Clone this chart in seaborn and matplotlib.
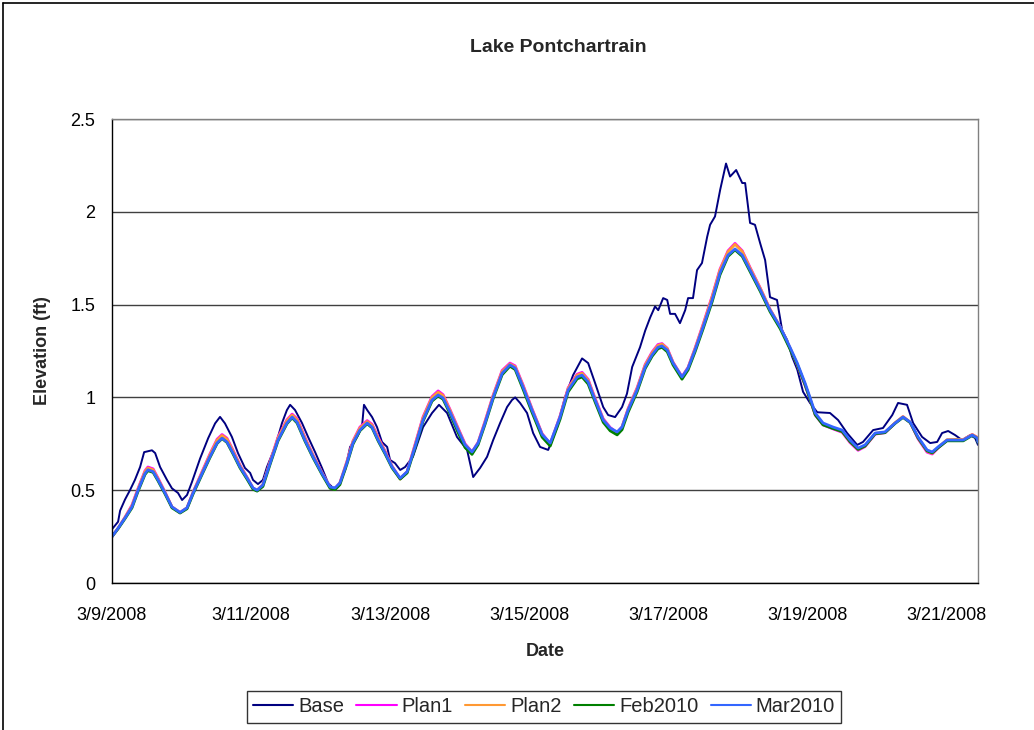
import matplotlib
matplotlib.use("Agg")
import matplotlib.pyplot as plt
import matplotlib.dates as mdates
from matplotlib.ticker import FuncFormatter, MultipleLocator
import seaborn as sns
import pandas as pd
import numpy as np

# Hours elapsed since 3/9/2008 00:00
base_hours = [0, 2.1, 2.8, 4.5, 6.2, 7.9, 9.7, 11.1, 13.8, 14.9, 16.6, 19.0, 20.7, 22.8,
              24.2, 25.9, 27.6, 30.4, 33.2, 35.6, 37.3, 39.0, 41.4, 43.5, 45.9, 47.7,
              48.7, 50.4, 52.1, 53.5, 56.3, 58.7, 60.4, 61.5, 63.2, 65.6, 67.7, 70.1,
              72.5, 74.6, 76.3, 78.0, 80.5, 82.2, 84.6, 86.3, 87.0, 88.1, 89.8, 91.5,
              93.2, 95.0, 96.0, 97.7, 99.5, 101.2, 103.9, 107.4, 110.5, 112.9, 115.7,
              119.1, 122.6, 124.7, 127.1, 129.5, 131.6, 134.0, 136.4, 138.1, 139.2,
              140.9, 143.3, 145.4, 147.8, 150.6, 153.7, 156.4, 159.2, 162.3, 164.4,
              166.8, 169.6, 171.3, 173.7, 176.1, 177.8, 179.6, 182.3, 184.1, 185.8,
              187.5, 188.6, 190.3, 191.7, 192.7, 194.4, 196.1, 197.9, 198.9, 200.6,
              202.0, 203.7, 205.5, 206.5, 208.2, 210.0, 212.0, 213.4, 215.5, 217.6,
              218.6, 220.3, 222.0, 223.8, 225.5, 227.2, 229.6, 231.4, 233.1, 234.8,
              236.6, 238.6, 241.0, 243.5, 247.9, 250.7, 253.8, 257.3, 259.3, 262.8,
              266.2, 269.4, 271.4, 274.5, 276.6, 279.7, 282.5, 284.9, 286.6, 288.7,
              291.1, 293.5, 296.3, 298.0, 299.0]
base = [0.29, 0.33, 0.39, 0.45, 0.50, 0.555, 0.625, 0.705, 0.715, 0.70, 0.625, 0.555,
        0.51, 0.485, 0.447, 0.474, 0.544, 0.67, 0.78, 0.86, 0.895, 0.86, 0.787, 0.70,
        0.62, 0.593, 0.555, 0.533, 0.555, 0.625, 0.733, 0.862, 0.932, 0.96, 0.932,
        0.862, 0.787, 0.706, 0.62, 0.539, 0.512, 0.517, 0.609, 0.733, 0.787, 0.84,
        0.96, 0.932, 0.894, 0.84, 0.76, 0.733, 0.663, 0.646, 0.609, 0.625, 0.68, 0.84,
        0.916, 0.96, 0.916, 0.787, 0.717, 0.571, 0.62, 0.68, 0.77, 0.862, 0.948, 0.986,
        1.0, 0.97, 0.916, 0.808, 0.733, 0.717, 0.84, 1.0, 1.12, 1.21, 1.185, 1.077,
        0.948, 0.905, 0.894, 0.948, 1.02, 1.164, 1.27, 1.36, 1.43, 1.49, 1.47, 1.535,
        1.525, 1.45, 1.45, 1.40, 1.47, 1.535, 1.535, 1.686, 1.724, 1.866, 1.93, 1.975,
        2.12, 2.26, 2.19, 2.225, 2.155, 2.155, 1.94, 1.93, 1.83, 1.74, 1.54, 1.525,
        1.36, 1.31, 1.22, 1.15, 1.03, 0.97, 0.92, 0.916, 0.878, 0.808, 0.744, 0.76,
        0.824, 0.835, 0.905, 0.97, 0.96, 0.862, 0.787, 0.754, 0.76, 0.808, 0.819,
        0.797, 0.77, 0.797, 0.781, 0.744]

plan_hours = [0, 2.1, 4.5, 6.9, 9.0, 11.4, 12.4, 14.2, 15.9, 18.3, 20.7, 23.5, 25.9,
              28.0, 31.1, 33.8, 36.3, 38.0, 39.7, 41.8, 44.2, 46.6, 48.7, 50.1, 52.1,
              54.6, 57.3, 60.4, 62.2, 63.9, 66.6, 69.4, 72.5, 75.3, 77.0, 78.7, 81.1,
              83.2, 85.6, 88.1, 89.8, 91.9, 94.3, 96.7, 99.5, 101.9, 104.6, 107.4,
              110.5, 112.6, 114.3, 116.7, 119.5, 121.9, 124.3, 126.4, 128.8, 131.6,
              134.7, 137.4, 139.2, 141.9, 145.0, 148.5, 151.3, 154.7, 157.5, 160.6,
              162.3, 164.4, 166.8, 169.6, 172.0, 174.4, 176.1, 178.2, 181.3, 184.1,
              186.5, 188.5, 189.9, 191.7, 193.7, 196.8, 198.9, 201.3, 204.1, 207.2,
              209.9, 212.7, 215.1, 217.6, 220.3, 223.8, 227.2, 230.7, 234.1, 236.6,
              239.3, 241.0, 242.8, 245.5, 249.0, 252.1, 254.8, 257.6, 260.0, 263.5,
              266.9, 270.4, 273.1, 275.6, 278.3, 281.4, 283.2, 285.2, 288.3, 291.8,
              293.9, 297.0, 298.7, 299.0]

mar2010 = [0.25, 0.295, 0.35, 0.41, 0.50, 0.59, 0.61, 0.60, 0.555, 0.485, 0.41, 0.38,
           0.405, 0.485, 0.59, 0.68, 0.755, 0.78, 0.76, 0.70, 0.625, 0.566, 0.512, 0.50,
           0.528, 0.646, 0.77, 0.862, 0.894, 0.867, 0.77, 0.68, 0.59, 0.517, 0.512,
           0.539, 0.646, 0.754, 0.824, 0.862, 0.84, 0.77, 0.70, 0.625, 0.565, 0.60,
           0.733, 0.878, 0.986, 1.013, 0.997, 0.921, 0.824, 0.744, 0.706, 0.754, 0.862,
           1.0, 1.13, 1.175, 1.158, 1.056, 0.932, 0.80, 0.754, 0.894, 1.04, 1.11, 1.12,
           1.083, 0.986, 0.878, 0.835, 0.814, 0.84, 0.932, 1.04, 1.164, 1.23, 1.27,
           1.277, 1.255, 1.185, 1.11, 1.158, 1.255, 1.38, 1.525, 1.67, 1.767, 1.80,
           1.767, 1.686, 1.58, 1.47, 1.38, 1.27, 1.185, 1.077, 1.0, 0.916, 0.862, 0.84,
           0.824, 0.77, 0.727, 0.744, 0.808, 0.814, 0.862, 0.894, 0.867, 0.787, 0.717,
           0.706, 0.733, 0.77, 0.77, 0.77, 0.797, 0.781, 0.76]

plan1 = [0.25, 0.295, 0.355, 0.42, 0.51, 0.605, 0.625, 0.615, 0.565, 0.49, 0.41, 0.38,
         0.405, 0.49, 0.60, 0.695, 0.775, 0.80, 0.78, 0.715, 0.635, 0.57, 0.512, 0.50,
         0.53, 0.655, 0.785, 0.88, 0.91, 0.885, 0.785, 0.69, 0.595, 0.517, 0.508,
         0.54, 0.655, 0.765, 0.84, 0.875, 0.855, 0.785, 0.71, 0.63, 0.562, 0.60,
         0.745, 0.895, 1.005, 1.035, 1.015, 0.935, 0.835, 0.75, 0.706, 0.758, 0.872,
         1.012, 1.145, 1.185, 1.17, 1.068, 0.94, 0.805, 0.75, 0.9, 1.052, 1.125, 1.135,
         1.097, 0.995, 0.885, 0.838, 0.81, 0.842, 0.94, 1.052, 1.178, 1.245, 1.285,
         1.29, 1.265, 1.19, 1.112, 1.162, 1.265, 1.395, 1.545, 1.69, 1.79, 1.83,
         1.79, 1.70, 1.59, 1.475, 1.38, 1.265, 1.175, 1.065, 0.99, 0.905, 0.852, 0.83,
         0.812, 0.757, 0.715, 0.735, 0.802, 0.81, 0.862, 0.896, 0.865, 0.777, 0.705,
         0.695, 0.727, 0.77, 0.772, 0.772, 0.80, 0.785, 0.765]

plan2 = [0.25, 0.295, 0.353, 0.416, 0.506, 0.60, 0.62, 0.61, 0.56, 0.488, 0.41, 0.379,
         0.405, 0.488, 0.596, 0.69, 0.77, 0.795, 0.775, 0.71, 0.632, 0.568, 0.51, 0.498,
         0.53, 0.652, 0.78, 0.875, 0.905, 0.88, 0.78, 0.687, 0.593, 0.515, 0.505,
         0.54, 0.652, 0.762, 0.835, 0.87, 0.85, 0.78, 0.706, 0.628, 0.56, 0.60,
         0.74, 0.89, 1.0, 1.028, 1.01, 0.93, 0.83, 0.746, 0.703, 0.755, 0.868,
         1.008, 1.14, 1.18, 1.165, 1.063, 0.936, 0.802, 0.745, 0.896, 1.048, 1.12, 1.13,
         1.092, 0.99, 0.88, 0.834, 0.805, 0.84, 0.936, 1.048, 1.174, 1.24, 1.28,
         1.287, 1.262, 1.188, 1.108, 1.16, 1.262, 1.39, 1.54, 1.685, 1.785, 1.825,
         1.786, 1.696, 1.588, 1.474, 1.38, 1.266, 1.178, 1.07, 0.994, 0.91, 0.856, 0.834,
         0.816, 0.762, 0.72, 0.738, 0.806, 0.812, 0.864, 0.897, 0.866, 0.781, 0.71,
         0.699, 0.73, 0.772, 0.774, 0.772, 0.80, 0.785, 0.763]

feb2010 = [0.25, 0.292, 0.347, 0.405, 0.494, 0.585, 0.605, 0.596, 0.55, 0.48, 0.405,
           0.377, 0.4, 0.48, 0.585, 0.675, 0.752, 0.778, 0.757, 0.695, 0.62, 0.56, 0.505,
           0.495, 0.52, 0.64, 0.765, 0.858, 0.89, 0.862, 0.765, 0.675, 0.585, 0.51,
           0.503, 0.53, 0.64, 0.748, 0.82, 0.858, 0.836, 0.765, 0.695, 0.62, 0.56, 0.593,
           0.726, 0.872, 0.98, 1.008, 0.99, 0.912, 0.81, 0.73, 0.693, 0.745, 0.855,
           0.993, 1.122, 1.168, 1.15, 1.045, 0.92, 0.786, 0.738, 0.882, 1.03, 1.1, 1.11,
           1.072, 0.975, 0.866, 0.82, 0.798, 0.826, 0.92, 1.03, 1.156, 1.222, 1.262,
           1.27, 1.246, 1.175, 1.098, 1.148, 1.245, 1.37, 1.515, 1.66, 1.76, 1.795,
           1.76, 1.678, 1.572, 1.462, 1.37, 1.26, 1.178, 1.068, 0.99, 0.906, 0.852, 0.832,
           0.816, 0.762, 0.72, 0.738, 0.804, 0.81, 0.86, 0.892, 0.864, 0.782, 0.712,
           0.701, 0.728, 0.766, 0.766, 0.766, 0.795, 0.779, 0.758]

series_names = ["Base", "Plan1", "Plan2", "Feb2010", "Mar2010"]
series_colors = ["#000080", "#FF00FF", "#FF9933", "#008000", "#3366FF"]
series_widths = [1.4, 2.0, 2.0, 2.0, 2.0]

start = pd.Timestamp("2008-03-09")
frames = []
for name, hrs, vals in [("Base", base_hours, base),
                        ("Plan1", plan_hours, plan1),
                        ("Plan2", plan_hours, plan2),
                        ("Feb2010", plan_hours, feb2010),
                        ("Mar2010", plan_hours, mar2010)]:
    frames.append(pd.DataFrame({"Date": start + pd.to_timedelta(hrs, unit="h"),
                                "Elevation": vals, "Series": name}))
df = pd.concat(frames, ignore_index=True)

sns.set_theme(style="white")
plt.rcParams["font.family"] = ["Liberation Sans", "DejaVu Sans"]

fig = plt.figure(figsize=(10.34, 7.30), dpi=100)
ax = fig.add_axes([112 / 1034, 1 - 583 / 730, (978 - 112) / 1034, (583 - 119) / 730])

for name, color, lw in zip(series_names, series_colors, series_widths):
    sub = df[df["Series"] == name]
    sns.lineplot(data=sub, x="Date", y="Elevation", ax=ax, color=color,
                 linewidth=lw, label=name, estimator=None, sort=True)

ax.set_ylim(0, 2.5)
ax.set_xlim(start, start + pd.Timedelta(hours=299))
ax.yaxis.set_major_locator(MultipleLocator(0.5))
ax.yaxis.set_major_formatter(FuncFormatter(lambda v, p: f"{v:g}"))
ax.xaxis.set_major_locator(mdates.DayLocator(bymonthday=range(1, 32, 2)))


def date_label(v, pos):
    d = mdates.num2date(v)
    return f"{d.month}/{d.day}/{d.year}"


ax.xaxis.set_major_formatter(FuncFormatter(date_label))

ax.grid(axis="y", color="#404040", linewidth=1.0)
ax.grid(axis="x", visible=False)
ax.set_axisbelow(True)
for side in ["top", "right"]:
    ax.spines[side].set_color("#808080")
    ax.spines[side].set_linewidth(1.0)
for side in ["left", "bottom"]:
    ax.spines[side].set_color("#000000")
    ax.spines[side].set_linewidth(1.0)

ax.tick_params(axis="both", which="major", direction="out", length=5, width=1,
               color="black", labelsize=13, labelcolor="black", pad=7)
ax.tick_params(axis="x", pad=12)

ax.set_xlabel("Date", fontsize=13, fontweight="bold", labelpad=14)
ax.set_ylabel("Elevation (ft)", fontsize=13, fontweight="bold", labelpad=14)
fig.text(558 / 1034, 1 - 47 / 730, "Lake Pontchartrain", ha="center", va="center",
         fontsize=14, fontweight="bold")

if ax.legend_:
    ax.legend_.remove()
handles, labels = ax.get_legend_handles_labels()
leg = fig.legend(handles, labels, loc="center", bbox_to_anchor=(544 / 1034, 1 - 707 / 730),
                 ncol=5, frameon=True, fancybox=False, edgecolor="black", fontsize=14.5,
                 handlelength=2.0, handletextpad=0.25, columnspacing=0.6,
                 borderpad=0.3, borderaxespad=0)
leg.get_frame().set_linewidth(1.0)
for line in leg.get_lines():
    line.set_linewidth(1.5)

# Outer chart border
fig.add_artist(plt.Line2D([3 / 1034, 3 / 1034], [0, 1 - 3 / 730], transform=fig.transFigure,
                          color="black", linewidth=1.2))
fig.add_artist(plt.Line2D([3 / 1034, 1], [1 - 3 / 730, 1 - 3 / 730], transform=fig.transFigure,
                          color="black", linewidth=1.2))

fig.savefig("out.png", dpi=100, facecolor="white")
